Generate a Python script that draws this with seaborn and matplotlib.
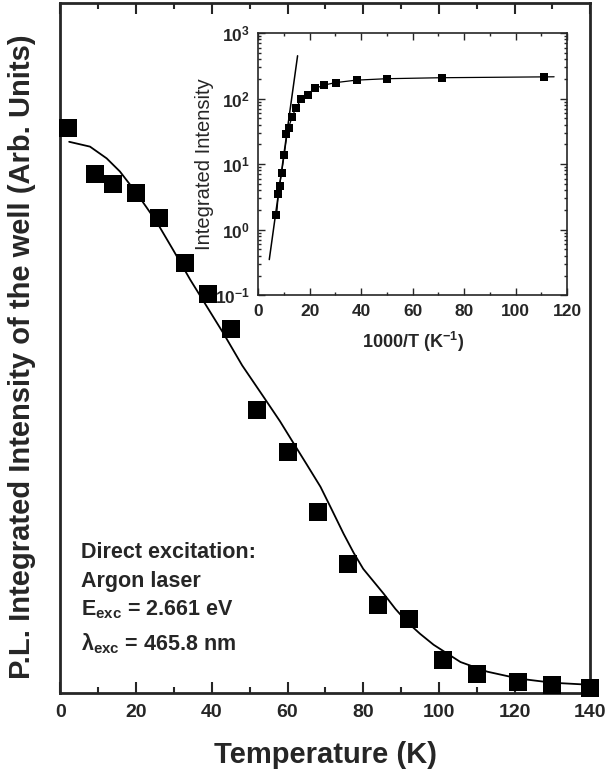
import matplotlib
matplotlib.use("Agg")
import matplotlib.pyplot as plt
from matplotlib.ticker import MultipleLocator, LogLocator, NullFormatter
import seaborn as sns
import pandas as pd

# main panel: PL intensity vs temperature (arb. units)
temp_K = [2, 9, 14, 20, 26, 33, 39, 45, 52, 60, 68, 76, 84, 92, 101, 110, 121, 130, 140]
pl_int = [0.819, 0.752, 0.738, 0.725, 0.688, 0.623, 0.578, 0.528, 0.410, 0.349,
          0.262, 0.187, 0.128, 0.107, 0.048, 0.028, 0.016, 0.012, 0.007]

fit_T = [2.3, 7.8, 12.2, 15.7, 20.2, 25.4, 29.8, 34.3, 38.7, 43.1, 48.0, 53.7, 58.0,
         61.6, 65.0, 68.7, 71.5, 74.8, 77.5, 80.0, 83.0, 85.4, 88.5, 91.6, 95.0,
         98.6, 105.7, 112.8, 121.1, 130, 140]
fit_pl = [0.799, 0.792, 0.775, 0.756, 0.724, 0.683, 0.642, 0.599, 0.560, 0.521, 0.475,
          0.429, 0.394, 0.362, 0.332, 0.299, 0.268, 0.231, 0.203, 0.180, 0.160,
          0.144, 0.122, 0.103, 0.086, 0.070, 0.045, 0.031, 0.021, 0.015, 0.012]

# inset: Arrhenius plot
inv_T = [7.1, 7.7, 8.3, 9.1, 9.9, 10.9, 11.9, 13.2, 14.7, 16.7, 19.2, 22.2, 25.6,
         30.3, 38.5, 50.0, 71.4, 111.0]
inset_int = [1.66, 3.5, 4.7, 7.4, 13.6, 29, 35, 52, 73, 97, 113, 146, 163, 175,
             191, 201, 208, 213]

curve_x = [7.1, 8.0, 9.0, 10.0, 11.0, 12.0, 13.0, 14.5, 16.5, 19.0, 22.0, 26.0,
           30.0, 38.0, 50.0, 71.0, 90.0, 115.0]
curve_y = [1.6, 4.2, 7.0, 13, 25, 38, 50, 70, 95, 115, 143, 162, 175, 191, 201,
           208, 211, 215]

steep_x = [4.3, 15.3]
steep_y = [0.35, 450]

sns.set_style("ticks")
plt.rcParams["font.family"] = ["Liberation Sans", "DejaVu Sans"]
plt.rcParams["mathtext.fontset"] = "custom"
plt.rcParams["mathtext.rm"] = "Liberation Sans:bold"
plt.rcParams["mathtext.bf"] = "Liberation Sans:bold"
plt.rcParams["mathtext.it"] = "Liberation Sans:bold"

fig = plt.figure(figsize=(6.09, 7.77), dpi=100)
ax = fig.add_axes([0.0993, 0.108, 0.870, 0.888])

main_df = pd.DataFrame({"T": temp_K, "I": pl_int})
fit_df = pd.DataFrame({"T": fit_T, "I": fit_pl})
sns.lineplot(data=fit_df, x="T", y="I", ax=ax, color="black", lw=1.3, sort=False)
sns.scatterplot(data=main_df, x="T", y="I", ax=ax, marker="s", s=150,
                color="black", edgecolor="black", linewidth=0, zorder=3, clip_on=False)

ax.set_xlim(0, 140)
ax.set_ylim(0, 1.0)
ax.set_yticks([])
ax.xaxis.set_major_locator(MultipleLocator(20))
ax.xaxis.set_minor_locator(MultipleLocator(10))
ax.tick_params(axis="x", which="both", direction="in", top=True, bottom=True,
               labelsize=14, width=1.5)
ax.tick_params(axis="x", which="major", length=8, pad=8)
ax.tick_params(axis="x", which="minor", length=4)
for lab in ax.get_xticklabels():
    lab.set_fontweight("bold")
for sp in ax.spines.values():
    sp.set_linewidth(2)
ax.set_xlabel("Temperature (K)", fontsize=21, fontweight="bold", labelpad=14)
ax.set_ylabel("P.L. Integrated Intensity of the well (Arb. Units)", fontsize=21,
              fontweight="bold")
ax.yaxis.set_label_coords(-0.046, 0.487)

ann = ["Direct excitation:", "Argon laser", "E$_{\\mathrm{exc}}$ = 2.661 eV",
       "λ$_{\\mathrm{exc}}$ = 465.8 nm"]
ann_y = [0.196, 0.154, 0.113, 0.062]
for txt, yy in zip(ann, ann_y):
    ax.text(5.5, yy, txt, fontsize=15.5, fontweight="bold", ha="left",
            va="baseline")

# inset
ins = fig.add_axes([0.424, 0.620, 0.507, 0.3375])
ins_df = pd.DataFrame({"x": inv_T, "y": inset_int})
sns.lineplot(x=curve_x, y=curve_y, ax=ins, color="black", lw=0.9, sort=False)
sns.lineplot(x=steep_x, y=steep_y, ax=ins, color="black", lw=1.1, sort=False)
sns.scatterplot(data=ins_df, x="x", y="y", ax=ins, marker="s", s=30,
                color="black", linewidth=0, zorder=3)
ins.set_yscale("log")
ins.set_xlim(0, 120)
ins.set_ylim(0.1, 1000)
ins.xaxis.set_major_locator(MultipleLocator(20))
ins.xaxis.set_minor_locator(MultipleLocator(10))
ins.yaxis.set_major_locator(LogLocator(base=10, numticks=10))
ins.yaxis.set_minor_locator(LogLocator(base=10, subs=range(2, 10), numticks=10))
ins.yaxis.set_minor_formatter(NullFormatter())
ins.tick_params(which="both", direction="in", top=True, right=True, labelsize=12.5,
                width=1.0)
ins.tick_params(which="major", length=5, pad=6)
ins.tick_params(which="minor", length=2.5)
for lab in ins.get_xticklabels() + ins.get_yticklabels():
    lab.set_fontweight("bold")
for sp in ins.spines.values():
    sp.set_linewidth(1.2)
ins.set_xlabel("1000/T (K$^{-1}$)", fontsize=13, fontweight="bold", labelpad=8)
ins.set_ylabel("Integrated Intensity", fontsize=14.5, labelpad=1)

fig.savefig("out.png", dpi=100)
